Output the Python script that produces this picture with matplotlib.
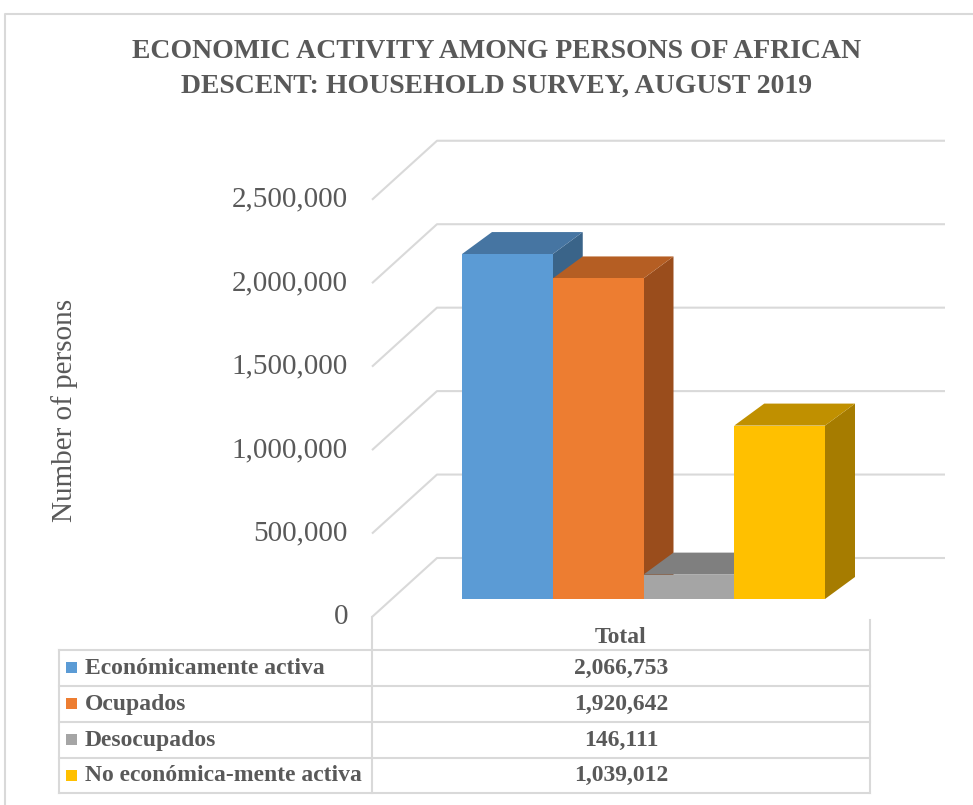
import matplotlib
matplotlib.use("Agg")
import matplotlib.pyplot as plt
from matplotlib.patches import Polygon, Rectangle

plt.rcParams['font.family'] = ['Liberation Serif', 'DejaVu Serif']

# ---- data ----
categories = ["Económicamente activa", "Ocupados", "Desocupados", "No económica-mente activa"]
values = [2066753, 1920642, 146111, 1039012]
value_labels = ["2,066,753", "1,920,642", "146,111", "1,039,012"]
column_label = "Total"
yticks = [0, 500000, 1000000, 1500000, 2000000, 2500000]
ytick_labels = ["0", "500,000", "1,000,000", "1,500,000", "2,000,000", "2,500,000"]

front_colors = ["#5B9BD5", "#ED7D31", "#A5A5A5", "#FFC000"]
top_colors = ["#4675A2", "#B55E23", "#7F7F7F", "#C09000"]
side_colors = ["#3A6489", "#9A4D1C", "#6B6B6B", "#A67C00"]

TXT = "#595959"
GRID = "#D9D9D9"
W, H = 973, 805

# ---- layout (pixels) ----
PX_X = 90.75          # px per bar
PX_Y = 166.9e-6       # px per person
BASE_X, BASE_Y = 462, 599   # left/bottom of first bar front face

def px(v):  # horizontal px -> data x units
    return v / PX_X

def py(v):  # vertical px -> data y units
    return v / PX_Y

# oblique offsets in data units
fx, fy = px(-20), py(-18)    # front edge of floor
bx, by = px(45), py(41)      # back wall
dx, dy = px(30), py(22)      # bar depth
x_wall_l = -0.5 + px(392 - BASE_X)
x_wall_r = -0.5 + px(900 - BASE_X)

fig = plt.figure(figsize=(W / 100, H / 100), dpi=100)

# overlay in pixel space for frame, title, table
ov = fig.add_axes([0, 0, 1, 1])
ov.set_xlim(0, W); ov.set_ylim(H, 0); ov.axis("off")
ov.plot([5, 5, W], [H, 14, 14], color=GRID, lw=1.5)

ov.text(497, 52, "ECONOMIC ACTIVITY AMONG PERSONS OF AFRICAN", ha="center", va="center",
        fontsize=20, fontweight="bold", color=TXT)
ov.text(497, 86, "DESCENT: HOUSEHOLD SURVEY, AUGUST 2019", ha="center", va="center",
        fontsize=20, fontweight="bold", color=TXT)
ov.text(65, 410, "Number of persons", rotation=90, ha="center", va="center",
        fontsize=21, color=TXT)

# chart axes
xlim = (-2.3, 5.1); ylim = (-250000, 3000000)
left = BASE_X + (xlim[0] + 0.5) * PX_X
right = BASE_X + (xlim[1] + 0.5) * PX_X
top = BASE_Y - ylim[1] * PX_Y
bottom = BASE_Y - ylim[0] * PX_Y
ax = fig.add_axes([left / W, (H - bottom) / H, (right - left) / W, (bottom - top) / H])
ax.set_xlim(*xlim); ax.set_ylim(*ylim); ax.axis("off")
ax.patch.set_alpha(0)

for t, lab in zip(yticks, ytick_labels):
    ax.plot([x_wall_l + fx, x_wall_l + bx, x_wall_r + bx], [t + fy, t + by, t + by],
            color=GRID, lw=1.5, zorder=1, solid_capstyle="butt")
    ax.text(x_wall_l + fx - px(24), t + fy, lab, ha="right", va="center",
            fontsize=21, color=TXT)

x = list(range(len(values)))
bars = ax.bar(x, values, width=1.0, color=front_colors, linewidth=0)
for i, (xi, v) in enumerate(zip(x, values)):
    z = 3 + 3 * i
    side = Polygon([(xi + 0.5, 0), (xi + 0.5 + dx, dy), (xi + 0.5 + dx, v + dy), (xi + 0.5, v)],
                   closed=True, facecolor=side_colors[i], edgecolor="none", zorder=z)
    topf = Polygon([(xi - 0.5, v), (xi - 0.5 + dx, v + dy), (xi + 0.5 + dx, v + dy), (xi + 0.5, v)],
                   closed=True, facecolor=top_colors[i], edgecolor="none", zorder=z + 1)
    ax.add_patch(side); ax.add_patch(topf)
    bars[i].set_zorder(z + 2)

# ---- data table ----
rows = [650, 686, 722, 758, 793]
for r in rows:
    ov.plot([59, 870], [r, r], color=GRID, lw=1.5)
ov.plot([59, 59], [650, 793], color=GRID, lw=1.5)
ov.plot([372, 372], [617, 793], color=GRID, lw=1.5)
ov.plot([870, 870], [620, 793], color=GRID, lw=1.5)
ov.text(621, 637, column_label, ha="center", va="center", fontsize=17,
        fontweight="bold", color=TXT)
for i, (cat, vl) in enumerate(zip(categories, value_labels)):
    c = (rows[i] + rows[i + 1]) / 2
    ov.add_patch(Rectangle((66, c - 6), 11, 11, facecolor=front_colors[i], edgecolor="none"))
    ov.text(85, c, cat, ha="left", va="center", fontsize=17, fontweight="bold", color=TXT)
    ov.text(621, c, vl, ha="center", va="center", fontsize=17, fontweight="bold", color=TXT)

fig.savefig("out.png", dpi=100)
